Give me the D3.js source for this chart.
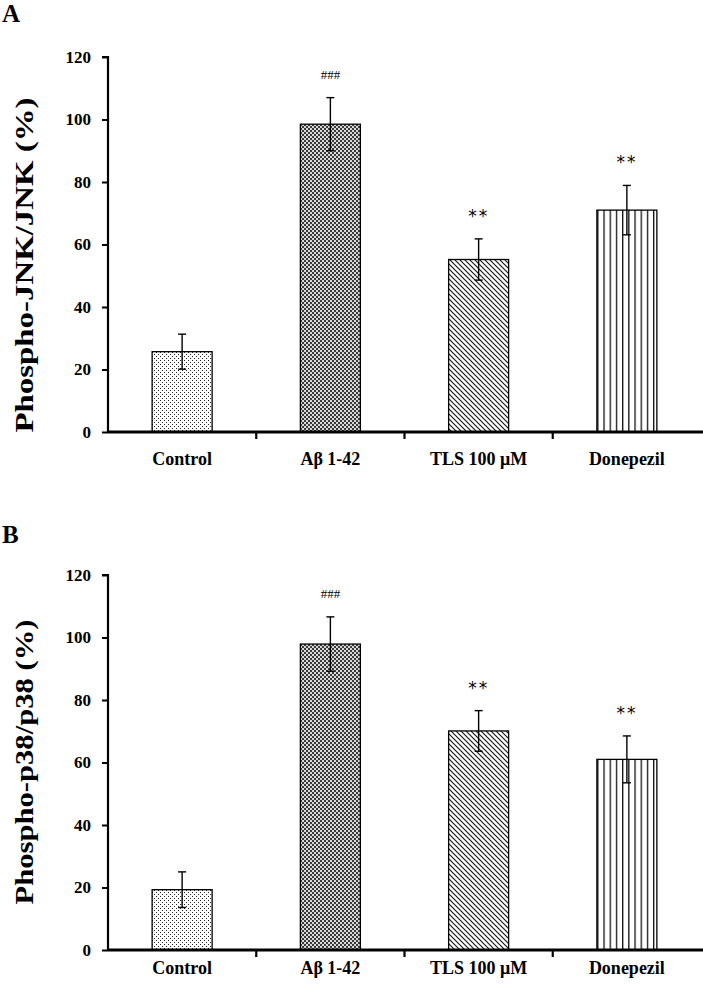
<!DOCTYPE html>
<html><head><meta charset="utf-8">
<script src="https://cdn.jsdelivr.net/npm/d3@7"></script>
<style>body{margin:0;background:#fff}svg{display:block}</style>
</head><body>
<svg id="c" width="703" height="985"></svg>
<script>
const categories = ["Control", "Aβ 1-42", "TLS 100 μM", "Donepezil"];
const jnkMean = [25.7, 98.5, 55.2, 71.0];
const jnkErr = [5.6, 8.5, 6.6, 7.9];
const jnkSig = ["", "###", "**", "**"];
const p38Mean = [19.3, 97.9, 70.1, 61.0];
const p38Err = [5.7, 8.7, 6.5, 7.5];
const p38Sig = ["", "###", "**", "**"];
const yTicks = [0, 20, 40, 60, 80, 100, 120];
const patterns = ["pDots", "pChecker", "pDiag", "pVert"];

const svg = d3.select("#c");
const defs = svg.append("defs");
let p = defs.append("pattern").attr("id","pDots").attr("patternUnits","userSpaceOnUse").attr("width",4).attr("height",4);
p.append("rect").attr("width",4).attr("height",4).attr("fill","#fff");
p.append("rect").attr("x",0).attr("y",0).attr("width",1).attr("height",1).attr("fill","#222");
p.append("rect").attr("x",2).attr("y",2).attr("width",1).attr("height",1).attr("fill","#222");
p = defs.append("pattern").attr("id","pChecker").attr("patternUnits","userSpaceOnUse").attr("width",4).attr("height",4);
p.append("rect").attr("width",4).attr("height",4).attr("fill","#d8d8d8");
p.append("rect").attr("x",0).attr("y",0).attr("width",2).attr("height",2).attr("fill","#3a3a3a");
p.append("rect").attr("x",2).attr("y",2).attr("width",2).attr("height",2).attr("fill","#3a3a3a");
p = defs.append("pattern").attr("id","pDiag").attr("patternUnits","userSpaceOnUse").attr("width",5).attr("height",5);
p.append("rect").attr("width",5).attr("height",5).attr("fill","#fff");
p.append("path").attr("d","M-1,-1 L6,6 M-1,4 L1,6 M4,-1 L6,1").attr("stroke","#111").attr("stroke-width",1.1);
p = defs.append("pattern").attr("id","pVert").attr("patternUnits","userSpaceOnUse").attr("width",6.2).attr("height",10).attr("x",2);
p.append("rect").attr("width",6.2).attr("height",10).attr("fill","#fff");
p.append("rect").attr("x",0).attr("y",0).attr("width",1.3).attr("height",10).attr("fill","#111");

const serif = "'Liberation Serif','Times New Roman',serif";

function panel(letter, letterY, top, means, errs, sigs, ylabel, labelCenter, labelLen, xPad) {
  const x0 = 108, x1 = 701, yTop = top, yBot = top + 375;
  const g = svg.append("g");
  const x = d3.scaleBand().domain(categories).range([x0, x1]).paddingInner(0).paddingOuter(0);
  const y = d3.scaleLinear().domain([0, 120]).range([yBot, yTop]);
  const bw = 60;

  g.append("text").attr("x", 2).attr("y", letterY).text(letter)
    .attr("font-family", serif).attr("font-weight","bold").attr("font-size", 25);

  const ya = g.append("g").attr("transform", `translate(${x0},0)`)
    .call(d3.axisLeft(y).tickValues(yTicks).tickSize(6).tickPadding(11));
  ya.select(".domain").attr("stroke","#000").attr("stroke-width",2.2).attr("d", `M-6,${yTop}H0V${yBot}`);
  ya.selectAll(".tick line").attr("stroke","#000").attr("stroke-width",2);
  ya.selectAll(".tick text").attr("font-family", serif).attr("font-weight","bold").attr("font-size",17).attr("fill","#000");

  categories.forEach((c, i) => {
    const cx = x(c) + x.bandwidth()/2;
    g.append("rect").attr("x", cx - bw/2).attr("y", y(means[i])).attr("width", bw)
      .attr("height", y(0) - y(means[i])).attr("fill", `url(#${patterns[i]})`)
      .attr("stroke","#000").attr("stroke-width",1.3);
    const eT = y(means[i] + errs[i]), eB = y(means[i] - errs[i]);
    g.append("line").attr("x1",cx).attr("x2",cx).attr("y1",eT).attr("y2",eB).attr("stroke","#000").attr("stroke-width",1.4);
    g.append("line").attr("x1",cx-4).attr("x2",cx+4).attr("y1",eT).attr("y2",eT).attr("stroke","#000").attr("stroke-width",1.4);
    g.append("line").attr("x1",cx-4).attr("x2",cx+4).attr("y1",eB).attr("y2",eB).attr("stroke","#000").attr("stroke-width",1.4);
    if (sigs[i]) {
      const isStar = sigs[i].startsWith("*");
      g.append("text").attr("x", cx).attr("y", eT - (isStar ? 17 : 19)).attr("text-anchor","middle")
        .attr("font-family", isStar ? "'DejaVu Sans',sans-serif" : serif)
        .attr("font-size", isStar ? 17 : 13).attr("letter-spacing", isStar ? 2 : 0)
        .text(sigs[i]);
    }
  });

  const xa = g.append("g").attr("transform", `translate(0,${yBot})`)
    .call(d3.axisBottom(x).tickSize(0).tickPadding(xPad));
  xa.select(".domain").attr("stroke","#000").attr("stroke-width",3).attr("d", `M${x0},0H${x1+2}`);
  xa.selectAll(".tick text").attr("font-family", serif).attr("font-weight","bold").attr("font-size",18).attr("fill","#000");
  categories.slice(1).forEach(c => {
    g.append("line").attr("x1", x(c)).attr("x2", x(c)).attr("y1", yBot).attr("y2", yBot + 7)
      .attr("stroke","#000").attr("stroke-width",2.2);
  });

  g.append("text").attr("transform", `translate(33,${labelCenter}) rotate(-90)`)
    .attr("text-anchor","middle").attr("font-family", serif).attr("font-weight","bold").attr("font-size",25)
    .attr("textLength", labelLen).attr("lengthAdjust","spacingAndGlyphs")
    .text(ylabel);
}

panel("A", 22, 57, jnkMean, jnkErr, jnkSig, "Phospho-JNK/JNK (%)", 265, 335, 20);
panel("B", 543, 575, p38Mean, p38Err, p38Sig, "Phospho-p38/p38 (%)", 762, 285, 11);
</script>
</body></html>
